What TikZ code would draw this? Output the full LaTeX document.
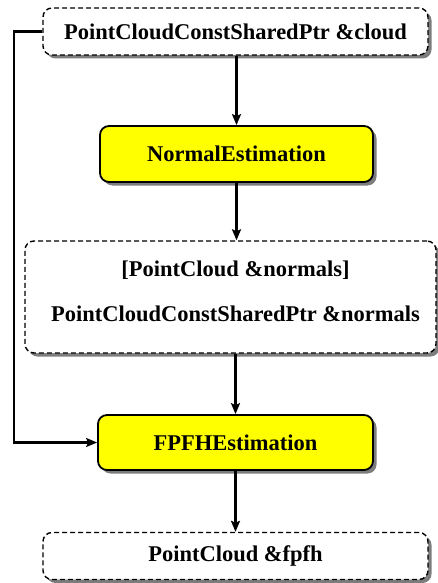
\documentclass[tikz,border=0pt]{standalone}
\usepackage{fontspec}
\setmainfont{Liberation Serif}
\usetikzlibrary{shadows,arrows.meta}
\definecolor{ylw}{RGB}{255,255,0}
\begin{document}
\begin{tikzpicture}[x=1pt,y=1pt,
  base/.style={rounded corners=9pt, inner sep=0pt, font=\fontsize{22.5}{27}\selectfont\bfseries,
    drop shadow={shadow xshift=3.5pt, shadow yshift=-3.5pt, fill=black!60, opacity=0.85}},
  dbox/.style={base, draw=black, dashed, dash pattern=on 5pt off 3pt, line width=1.4pt, fill=white},
  ybox/.style={base, draw=black, line width=1.8pt, fill=ylw},
  arr/.style={line width=2.2pt, -{Stealth[length=11pt,width=9pt,inset=2pt]}},
  txt/.style={font=\fontsize{22.5}{45}\selectfont\bfseries, align=center, inner sep=0pt}]
\useasboundingbox (0,0) rectangle (437,-583);
\node[dbox, minimum width=385pt, minimum height=47pt] (top) at (235.5,-31.5) {PointCloudConstSharedPtr \&cloud};
\node[ybox, minimum width=273pt, minimum height=56pt] (ne) at (236.5,-154) {NormalEstimation};
\node[dbox, minimum width=411pt, minimum height=112pt] (mid) at (230.5,-297) {};
\node[txt] (midtext) at (235.5,-291) {[PointCloud \&normals]\\PointCloudConstSharedPtr \&normals};
\node[ybox, minimum width=275pt, minimum height=55pt] (fp) at (235.5,-442.5) {FPFHEstimation};
\node[dbox, minimum width=385pt, minimum height=47pt] (out) at (235.5,-556) {PointCloud \&fpfh};
\coordinate (lc) at (14,-33);
\draw[arr] (top.south -| ne.north) -- (ne.north);
\draw[arr] (ne.south) -- (ne.south |- mid.north);
\draw[arr] (fp.north |- mid.south) -- (fp.north);
\draw[arr] (fp.south) -- (out.north -| fp.south);
\draw[arr] (top.west) -- (top.west -| lc) |- (fp.west);
\end{tikzpicture}
\end{document}
